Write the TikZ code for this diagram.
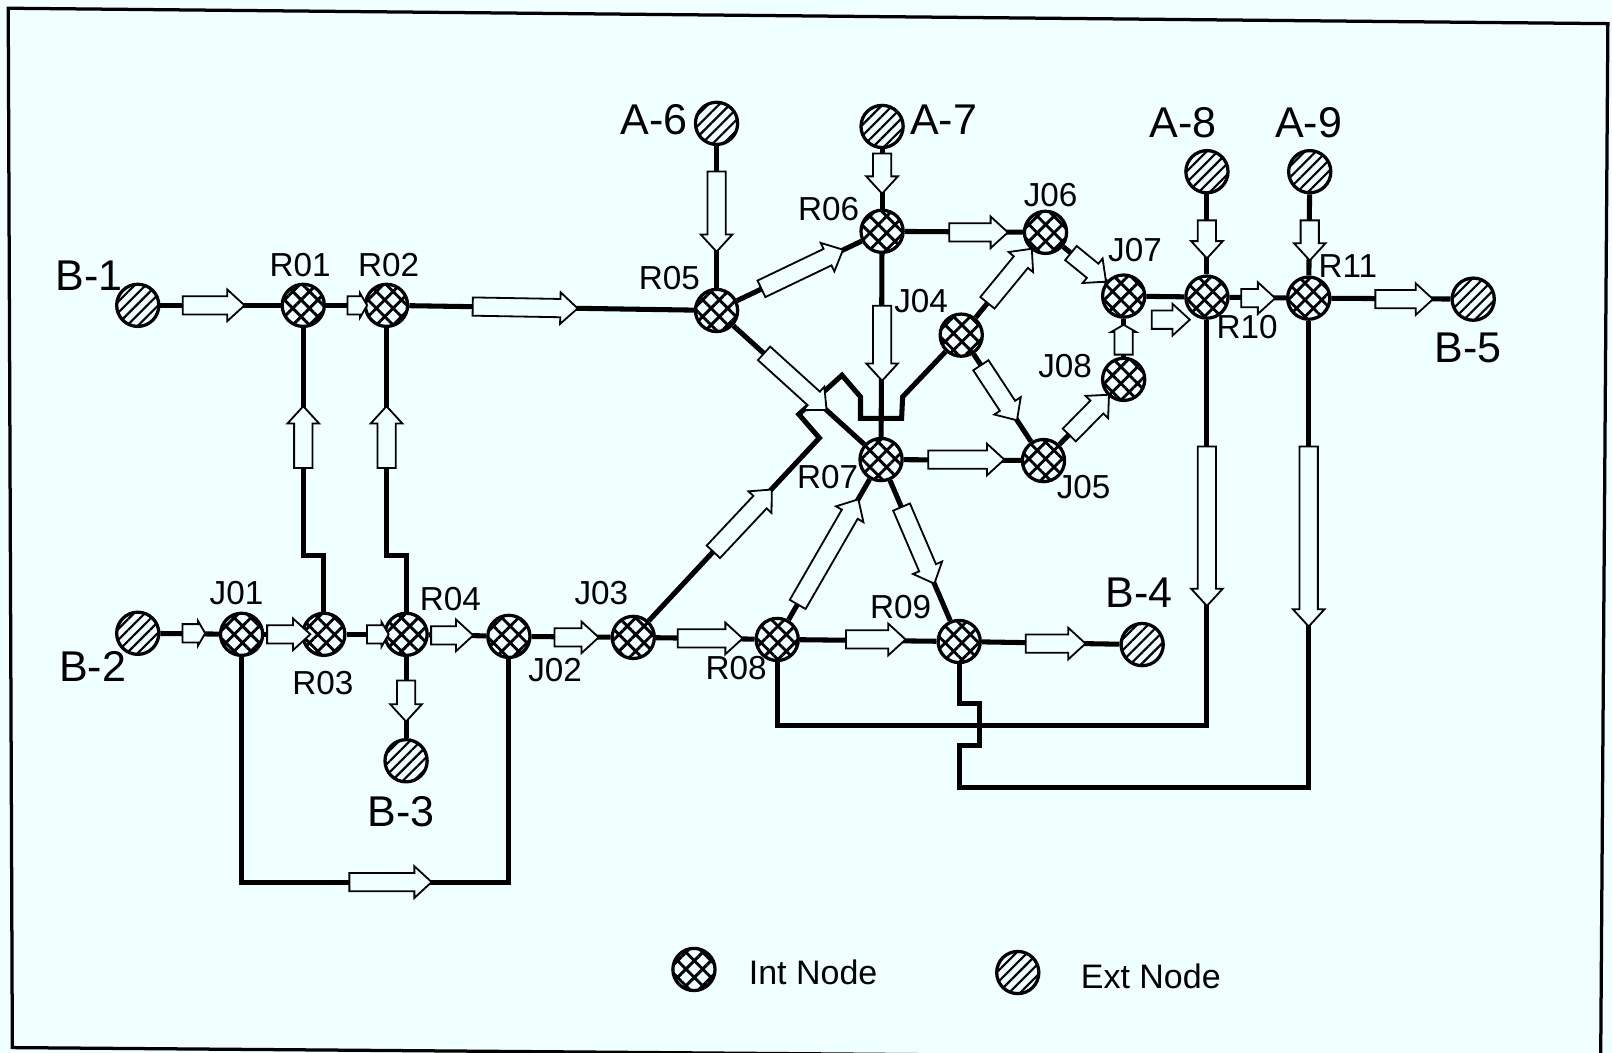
\documentclass[tikz,border=0pt]{standalone}
\usepackage{fontspec}
\setmainfont{Liberation Sans}
\usepackage{tikz}
\usetikzlibrary{arrows.meta, shapes.arrows, patterns.meta}
\usepackage{xcolor}
\definecolor{paper}{RGB}{240,255,255}

\begin{document}
\begin{tikzpicture}[
  x=0.01cm, y=-0.01cm,
  link/.style={line width=1.4pt, line join=miter},
  intnode/.style={circle, draw, line width=0.9pt, minimum size=0.41cm, inner sep=0pt,
    preaction={fill=paper}, pattern={Hatch[angle=45, distance=0.115cm, line width=0.8pt]}},
  extnode/.style={circle, draw, line width=0.9pt, minimum size=0.41cm, inner sep=0pt,
    preaction={fill=paper}, pattern={Lines[angle=45, distance=0.075cm, line width=0.6pt]}},
  flow/.style={single arrow, draw, line width=0.5pt, fill=paper, inner sep=0pt,
    text height=0.16cm, text depth=0pt, single arrow head extend=0.065cm,
    single arrow tip angle=85},
  smallflow/.style={flow, single arrow tip angle=120, single arrow head extend=0.03cm},
  tag/.style={font=\fontsize{9.2}{11}\selectfont},
  bigtag/.style={font=\fontsize{11.9}{14}\selectfont},
  legendtext/.style={font=\fontsize{9.4}{11}\selectfont, anchor=west}
]

% --- Tlo i ramka ---
\path[use as bounding box, fill=paper] (0,0) rectangle (1568,1024);
\draw[line width=0.9pt] (8,8) -- (1564,23) -- (1557,1031) -- (12,1019) -- cycle;

% --- Wezly zewnetrzne ---
\node[extnode] (B1) at (134,297) {};
\node[extnode] (B2) at (134,616) {};
\node[extnode] (B3) at (395,740) {};
\node[extnode] (B4) at (1111,627) {};
\node[extnode] (B5) at (1433,291) {};
\node[extnode] (A6) at (697,120) {};
\node[extnode] (A7) at (858,123) {};
\node[extnode] (A8) at (1174,167) {};
\node[extnode] (A9) at (1274,167) {};

% --- Wezly wewnetrzne ---
\node[intnode] (R01) at (295,297) {};
\node[intnode] (R02) at (376,297) {};
\node[intnode] (R03) at (315,617) {};
\node[intnode] (R04) at (395,617) {};
\node[intnode] (R05) at (697,302) {};
\node[intnode] (R06) at (858,225) {};
\node[intnode] (R07) at (857,447) {};
\node[intnode] (R08) at (756,622) {};
\node[intnode] (R09) at (933,624) {};
\node[intnode] (R10) at (1174,289) {};
\node[intnode] (R11) at (1273,290) {};
\node[intnode] (J01) at (235,617) {};
\node[intnode] (J02) at (495,619) {};
\node[intnode] (J03) at (616,620) {};
\node[intnode] (J04) at (935,326) {};
\node[intnode] (J05) at (1015,448) {};
\node[intnode] (J06) at (1017,226) {};
\node[intnode] (J07) at (1093,288) {};
\node[intnode] (J08) at (1093,369) {};

% --- Punkty zalaman ---
\coordinate (up1) at (0,540);
\coordinate (low1) at (0,858);
\coordinate (low2) at (756,706);
\coordinate (low3) at (933,766);

% --- Polaczenia ---
\draw[link] (B1) -- (R01);
\draw[link] (R01) -- (R02);
\draw[link] (R02) -- (R05);
\draw[link] (A6) -- (R05);
\draw[link] (A7) -- (R06);
\draw[link] (R05) -- (R06);
\draw[link] (R05) -- (R07);
\draw[link] (R06) -- (R07);
\draw[link] (R06) -- (J06);
\draw[link] (J04) -- (J06);
\draw[link] (J04) -- (J05);
\draw[link] (J06) -- (J07);
\draw[link] (J05) -- (J08);
\draw[link] (J08) -- (J07);
\draw[link] (J07) -- (R10);
\draw[link] (A8) -- (R10);
\draw[link] (A9) -- (R11);
\draw[link] (R10) -- (R11);
\draw[link] (R11) -- (B5);
\draw[link] (R07) -- (J05);
\draw[link] (R08) -- (R07);
\draw[link] (R07) -- (R09);
\draw[link] (B2) -- (J01);
\draw[link] (J01) -- (R03);
\draw[link] (R03) -- (R04);
\draw[link] (R04) -- (J02);
\draw[link] (R04) -- (B3);
\draw[link] (J02) -- (J03);
\draw[link] (J03) -- (R08);
\draw[link] (R08) -- (R09);
\draw[link] (R09) -- (B4);
\draw[link] (R03) -- (R03 |- up1) -| (R01);
\draw[link] (R04) -- (R04 |- up1) -| (R02);
\draw[link] (J01) |- (J02 |- low1) -- (J02);
\draw[link] (R10) |- (low2) -- (R08);
\draw[link] (R11) |- (low3) -- ++(0,-41) -- ++(20,0) -- ++(0,-41) -| (R09);
\draw[link] (J03) -- (797,426) -- (777,403) -- (819,365) -- (837,386)
  -- (837,407) -- (877,407) -- (878,386) -- (J04);

% --- Strzalki przeplywu ---
\node[flow, minimum height=0.60cm] (f01) at (203,297) {};
\node[smallflow, minimum height=0.19cm] (f02) at (345,297) {};
\node[flow, minimum height=1.02cm, rotate=-1] (f03) at (506,299) {};
\node[flow, minimum height=0.60cm, rotate=90] (f04) at (295,430) {};
\node[flow, minimum height=0.60cm, rotate=90] (f05) at (376,430) {};
\node[smallflow, minimum height=0.22cm] (f06) at (186,616) {};
\node[flow, minimum height=0.42cm] (f07) at (276,617) {};
\node[smallflow, minimum height=0.21cm] (f08) at (365,617) {};
\node[flow, minimum height=0.41cm] (f09) at (435,618) {};
\node[flow, minimum height=0.40cm, rotate=-90] (f10) at (395,677) {};
\node[flow, minimum height=0.80cm] (f11) at (375,858) {};
\node[flow, minimum height=0.43cm] (f12) at (556,620) {};
\node[flow, minimum height=0.63cm] (f13) at (686,621) {};
\node[flow, minimum height=0.83cm, rotate=46.8] (f14) at (719,510) {};
\node[flow, minimum height=0.78cm, rotate=-90] (f15) at (697,201) {};
\node[flow, minimum height=0.88cm, rotate=25.6] (f16) at (776,264) {};
\node[flow, minimum height=0.39cm, rotate=-90] (f17) at (858,164) {};
\node[flow, minimum height=0.57cm] (f18) at (947,226) {};
\node[flow, minimum height=0.73cm, rotate=-90] (f19) at (858,329) {};
\node[flow, minimum height=0.82cm, rotate=-42.2] (f20) at (770,368) {};
\node[flow, minimum height=0.74cm] (f21) at (935,447) {};
\node[flow, minimum height=0.68cm, rotate=50.6] (f22) at (979,272) {};
\node[flow, minimum height=0.64cm, rotate=-56.7] (f23) at (969,378) {};
\node[flow, minimum height=0.44cm, rotate=-39.2] (f24) at (1055,257) {};
\node[flow, minimum height=0.55cm, rotate=45.4] (f25) at (1056,407) {};
\node[smallflow, minimum height=0.29cm, rotate=90] (f26) at (1093,333) {};
\node[flow, minimum height=0.37cm] (f27) at (1134,311) {};
\node[flow, minimum height=0.37cm, rotate=-90] (f28) at (1174,228) {};
\node[flow, minimum height=0.39cm, rotate=-90] (f29) at (1274,229) {};
\node[flow, minimum height=0.33cm] (f30) at (1219,290) {};
\node[flow, minimum height=0.56cm] (f31) at (1361,291) {};
\node[flow, minimum height=1.18cm, rotate=60] (f32) at (803,541) {};
\node[flow, minimum height=0.81cm, rotate=-66.8] (f33) at (891,526) {};
\node[flow, minimum height=0.58cm] (f34) at (847,622) {};
\node[flow, minimum height=0.58cm] (f35) at (1022,626) {};
\node[flow, minimum height=1.55cm, rotate=-90] (f36) at (1174,507) {};
\node[flow, minimum height=1.75cm, rotate=-90] (f37) at (1273,517) {};

% --- Opisy wezlow ---
\node[bigtag] (tB1) at (87,268) {B-1};
\node[bigtag] (tB2) at (90,648) {B-2};
\node[bigtag] (tB3) at (390,790) {B-3};
\node[bigtag] (tB4) at (1108,577) {B-4};
\node[bigtag] (tB5) at (1428,338) {B-5};
\node[bigtag] (tA6) at (636,116) {A-6};
\node[bigtag] (tA7) at (918,116) {A-7};
\node[bigtag] (tA8) at (1151,119) {A-8};
\node[bigtag] (tA9) at (1273,119) {A-9};
\node[tag] (tR01) at (292,258) {R01};
\node[tag] (tR02) at (378,258) {R02};
\node[tag] (tR03) at (314,664) {R03};
\node[tag] (tR04) at (438,583) {R04};
\node[tag] (tR05) at (651,270) {R05};
\node[tag] (tR06) at (806,203) {R06};
\node[tag] (tR07) at (805,464) {R07};
\node[tag] (tR08) at (716,650) {R08};
\node[tag] (tR09) at (876,590) {R09};
\node[tag] (tR10) at (1213,318) {R10};
\node[tag] (tR11) at (1311,259) {R11};
\node[tag] (tJ01) at (230,577) {J01};
\node[tag] (tJ02) at (540,652) {J02};
\node[tag] (tJ03) at (585,577) {J03};
\node[tag] (tJ04) at (896,293) {J04};
\node[tag] (tJ05) at (1054,474) {J05};
\node[tag] (tJ06) at (1022,190) {J06};
\node[tag] (tJ07) at (1104,243) {J07};
\node[tag] (tJ08) at (1036,356) {J08};

% --- Legenda ---
\node[intnode] (keyint) at (675,943) {};
\node[legendtext] (keyinttext) at (716,946) {Int Node};
\node[extnode] (keyext) at (990,946) {};
\node[legendtext] (keyexttext) at (1039,950) {Ext Node};

\end{tikzpicture}
\end{document}
